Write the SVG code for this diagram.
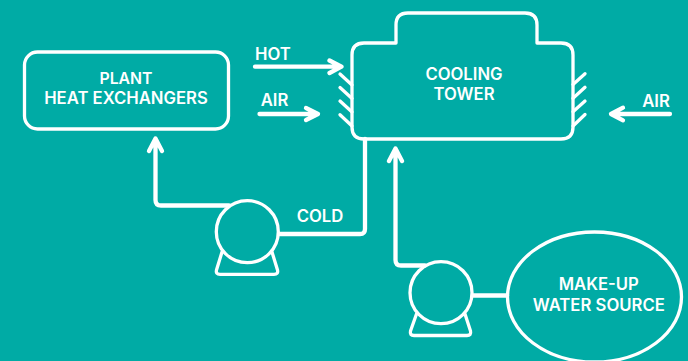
<svg xmlns="http://www.w3.org/2000/svg" width="688" height="361" viewBox="0 0 688 361">
<style>
.s{fill:none;stroke:#fff;stroke-width:3.3;stroke-linecap:round;stroke-linejoin:round}
.p{fill:none;stroke:#fff;stroke-width:4.300;stroke-linecap:round;stroke-linejoin:round}
text{font-family:Inter,"Liberation Sans",sans-serif;font-size:16.700px;font-weight:600;fill:#fff;text-anchor:middle}
</style>
<rect width="688" height="361" fill="#00aba5"/>
<g id="connectors">
<path class="p" d="M365 139V229Q365 234 360 234H279"/>
<path class="p" d="M229 205.500H161Q155.500 205.500 155.500 200V140M149 151L155.500 138.500L162 151"/>
<path class="p" d="M425 265.500H401Q395.500 265.500 395.500 260V150M389 161L395.500 148.500L402 161"/>
<path class="p" d="M473 295.500H507"/>
<path class="p" d="M255 66.700H341M329.500 60.500L341.500 66.700L329.500 73"/>
<path class="p" d="M259.500 114H318M306 108L318 114L306 120"/>
<path class="p" d="M670 114H611M623 107.700L611 114L623 120.300"/>
</g>
<g id="plant">
<rect class="s" x="24.500" y="52" width="204" height="77" rx="13"/>
<text x="126" y="84" style="font-size:15.800px">PLANT</text>
<text x="126" y="104">HEAT EXCHANGERS</text>
</g>
<g id="tower">
<path class="s" d="M352 127V55Q352 43 364 43H396V25Q396 13 408 13H525Q537 13 537 25V43H561Q573 43 573 55V127Q573 139 561 139H364Q352 139 352 127Z"/>
<path class="s" d="M340 74L352 85M340 87.500L352 98.500M340 101L352 112M340 114.700L352 126"/>
<path class="s" d="M573 84.500L585 73.700M573 98.300L585 87.300M573 111.700L585 101M573 126L585 114.500"/>
<text x="464" y="80">COOLING</text>
<text x="464" y="100">TOWER</text>
</g>
<g id="pump1">
<circle class="s" cx="247.300" cy="231.700" r="31"/>
<path class="s" d="M222 252L216.500 270Q215.500 274.300 220 274.300H274Q278.500 274.300 277.500 270L272 252"/>
</g>
<g id="pump2">
<circle class="s" cx="441" cy="292.700" r="31"/>
<path class="s" d="M416.500 314L410.500 331Q409.500 335.500 414 335.500H467Q471.500 335.500 470.500 331L465 314"/>
</g>
<g id="source">
<ellipse class="s" cx="594.500" cy="297" rx="87" ry="65"/>
<text x="598.800" y="290">MAKE-UP</text>
<text x="598.800" y="311">WATER SOURCE</text>
</g>
<g id="labels">
<text x="273" y="60">HOT</text>
<text x="274.500" y="106">AIR</text>
<text x="320" y="222">COLD</text>
<text x="656" y="107">AIR</text>
</g>
</svg>
